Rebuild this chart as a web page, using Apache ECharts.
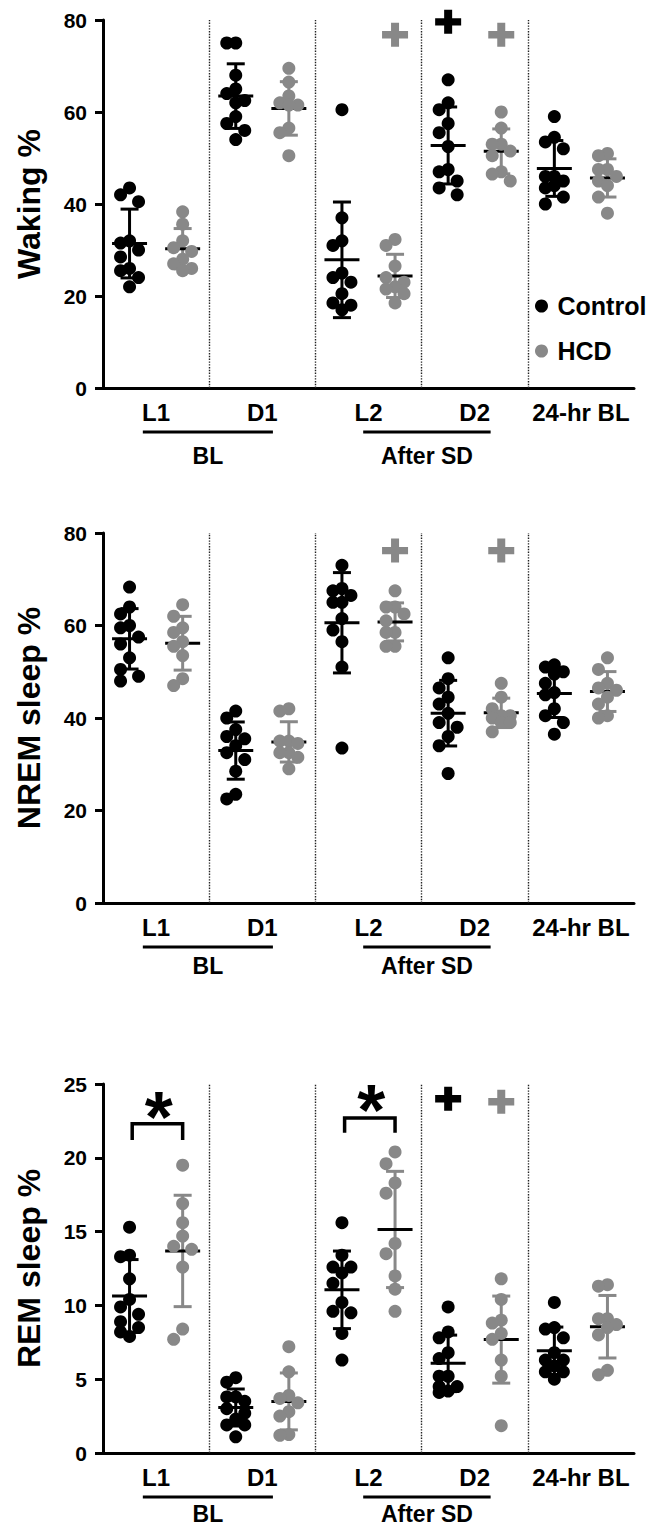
<!DOCTYPE html>
<html>
<head>
<meta charset="utf-8">
<script src="https://cdn.jsdelivr.net/npm/echarts@6/dist/echarts.min.js"></script>
<style>
html, body { margin: 0; padding: 0; background: #fff; }
#main { width: 652px; height: 1529px; }
</style>
</head>
<body>
<div id="main"></div>
<script>
// categories
var periods = ['L1', 'D1', 'L2', 'D2', '24-hr BL'];
var groupNames = ['BL', 'After SD'];

// Waking %
var wakingControl = [
	[43.5, 42, 40.5, 32, 31.5, 30, 28.5, 26, 25.5, 24, 22],
	[75, 75, 68, 65, 64, 62.5, 62, 59, 57.5, 56, 54],
	[60.5, 37, 32, 31, 25, 24, 23, 20.5, 18.5, 18, 17],
	[67, 62, 60.5, 57.5, 55.5, 52.5, 47.5, 47, 45, 43.5, 42],
	[59, 54.5, 53.5, 52, 46, 46, 45, 44, 43.5, 41.5, 40]
];
var wakingHCD = [
	[38.3, 35.6, 32, 30.5, 29.7, 28, 27, 26, 25.5],
	[69.5, 66.5, 63.5, 62, 61.5, 61.5, 56.5, 55.5, 50.5],
	[32.3, 31, 26.5, 24, 23, 22, 21.5, 20.5, 18.5],
	[60, 56.5, 53, 53, 51.5, 50.5, 47, 46.5, 45],
	[51, 50.5, 47.5, 47.5, 46, 45, 44, 41.5, 38]
];
var wakingCrossControl = [null, null, null, 79.6, null];
var wakingCrossHCD = [null, null, 76.8, 76.8, null];

// NREM sleep %
var nremControl = [
	[68.3, 64, 62.5, 60, 59.5, 57.5, 56, 53, 50.5, 49, 48],
	[41.5, 40, 37.5, 36, 35.5, 34, 32.5, 31, 28.5, 23.5, 22.5],
	[73, 68, 67.5, 66.5, 65, 65, 61.5, 59, 56.5, 51, 33.5],
	[53, 48.5, 46.5, 44.5, 43, 41, 39, 38, 36, 34, 28],
	[51.5, 51, 50, 49.5, 47.5, 45.5, 45, 42, 40.5, 39, 36.5]
];
var nremHCD = [
	[64.5, 62, 59.5, 58.5, 56.5, 55.5, 53.5, 48.5, 47],
	[42, 41.5, 35, 35, 34.5, 32.5, 32.5, 31.5, 29],
	[67.5, 64, 64, 62.5, 61, 58.5, 58.5, 55.5, 55.5],
	[47.5, 44.5, 42, 40.5, 40.5, 40, 39, 39, 37],
	[53, 50.5, 47.5, 46.5, 46, 44.5, 43, 40.5, 40]
];
var nremCrossControl = [null, null, null, null, null];
var nremCrossHCD = [null, null, 76.2, 76.2, null];

// REM sleep %
var remControl = [
	[15.3, 13.4, 13.3, 11.8, 10.4, 9.9, 9.4, 8.9, 8.5, 8.2, 7.9],
	[5.1, 4.8, 3.8, 3.8, 3.5, 3.0, 2.7, 2.3, 1.9, 1.9, 1.1],
	[15.6, 13.4, 12.6, 12.6, 12.2, 11.5, 10.2, 9.6, 9.5, 8.1, 6.3],
	[9.9, 8.2, 7.8, 6.8, 6.4, 5.2, 5.2, 4.5, 4.5, 4.2, 4.1],
	[10.2, 8.5, 8.4, 7.8, 6.8, 6.3, 6.3, 5.9, 5.5, 5.5, 5.0]
];
var remHCD = [
	[19.5, 16.9, 15.6, 14.7, 14.0, 13.8, 12.6, 8.4, 7.7],
	[7.2, 5.5, 3.9, 3.7, 3.4, 2.8, 2.5, 1.25, 1.2],
	[20.4, 19.6, 18.3, 17.6, 14.2, 13.5, 12.0, 11.1, 9.6],
	[11.8, 10.4, 9.0, 8.8, 8.1, 7.7, 6.3, 5.2, 1.85],
	[11.4, 11.3, 9.1, 9.1, 8.7, 8.5, 8.0, 5.6, 5.3]
];
var remCrossControl = [null, null, null, 24.0, null];
var remCrossHCD = [null, null, null, 23.8, null];
// * significance: level of the star, bracket top, bracket leg end
var remStars = [23.9, null, 24.4, null, null];
var remBracketTop = [22.3, null, 22.7, null, null];
var remBracketLeg = [21.2, null, 21.7, null, null];

var BLACK = '#000';
var GRAY = '#888';
var FONT = '"Liberation Sans", Arial, Helvetica, sans-serif';

var panels = [
	{ name: 'Waking %', ctrl: wakingControl, hcd: wakingHCD, crossC: wakingCrossControl, crossH: wakingCrossHCD, max: 80, step: 20, top: 20, height: 368, groupGap: 68 },
	{ name: 'NREM sleep %', ctrl: nremControl, hcd: nremHCD, crossC: nremCrossControl, crossH: nremCrossHCD, max: 80, step: 20, top: 533, height: 370, groupGap: 63 },
	{ name: 'REM sleep %', ctrl: remControl, hcd: remHCD, crossC: remCrossControl, crossH: remCrossHCD, max: 25, step: 5, top: 1084, height: 369, groupGap: 61 }
];
var gridLeft = 103, gridWidth = 531;

function meanSd(a) {
	var m = a.reduce(function(t, v) { return t + v; }, 0) / a.length;
	var s = Math.sqrt(a.reduce(function(t, v) { return t + (v - m) * (v - m); }, 0) / (a.length - 1));
	return [m, s];
}

// simple beeswarm so dots don't sit on top of each other
function swarm(values, center, pxPerY) {
	var pxPerX = gridWidth / 10;
	var placed = [], out = [];
	var offsets = [0, -9, 9];
	var sorted = values.slice().sort(function(a, b) { return b - a; });
	sorted.forEach(function(v) {
		var best = 0, bestD = -1;
		for (var k = 0; k < offsets.length; k++) {
			var ox = offsets[k], dmin = Infinity;
			placed.forEach(function(p) {
				var dx = p[0] - ox, dy = (p[1] - v) * pxPerY;
				dmin = Math.min(dmin, Math.sqrt(dx * dx + dy * dy));
			});
			if (dmin >= 12) { best = ox; bestD = dmin; break; }
			if (dmin > bestD) { bestD = dmin; best = ox; }
		}
		placed.push([best, v]);
		out.push([center + best / pxPerX, v]);
	});
	return out;
}

function renderBar(params, api) {
	var x = api.value(0), m = api.value(1), s = api.value(2);
	var col = api.value(3) ? GRAY : BLACK;
	var c = api.coord([x, m]), t = api.coord([x, m + s]), b = api.coord([x, m - s]);
	var st = { stroke: col, lineWidth: 3 };
	return {
		type: 'group',
		children: [
			{ type: 'line', shape: { x1: c[0], y1: t[1], x2: c[0], y2: b[1] }, style: st },
			{ type: 'line', shape: { x1: c[0] - 9, y1: t[1], x2: c[0] + 9, y2: t[1] }, style: st },
			{ type: 'line', shape: { x1: c[0] - 9, y1: b[1], x2: c[0] + 9, y2: b[1] }, style: st },
			{ type: 'line', shape: { x1: c[0] - 17.5, y1: c[1], x2: c[0] + 17.5, y2: c[1] }, style: { stroke: BLACK, lineWidth: 3 } }
		]
	};
}

// bracket + star: [x1, x2, bracketTop, legEnd, starX, starY]
function renderBracket(params, api) {
	var a = api.coord([api.value(0), api.value(2)]);
	var b = api.coord([api.value(1), api.value(3)]);
	var s = api.coord([api.value(4), api.value(5)]);
	return {
		type: 'group',
		children: [
			{
				type: 'polyline',
				shape: { points: [[a[0], b[1]], [a[0], a[1]], [b[0], a[1]], [b[0], b[1]]] },
				style: { stroke: BLACK, lineWidth: 3.5, fill: null }
			},
			{
				type: 'text', x: s[0], y: s[1] + 17,
				style: { text: '*', fill: BLACK, font: 'bold 72px ' + FONT, align: 'center', verticalAlign: 'middle' }
			}
		]
	};
}

var PLUS = 'path://M9,0h8v9h9v8h-9v9h-8v-9h-9v-8h9z';

var grids = [], xAxes = [], yAxes = [], series = [];
panels.forEach(function(p, i) {
	grids.push({ left: gridLeft, top: p.top, width: gridWidth, height: p.height, outerBoundsMode: 'none' });
	xAxes.push({
		type: 'value', gridIndex: i, min: 0, max: 10, interval: 1,
		axisLine: { lineStyle: { color: BLACK, width: 3 } },
		axisTick: { show: false },
		splitLine: { show: false },
		axisLabel: {
			margin: 12, color: BLACK, fontSize: 24, fontWeight: 'bold', fontFamily: FONT,
			formatter: function(v) { return v % 2 === 1 ? periods[(v - 1) / 2] : ''; }
		}
	});
	yAxes.push({
		type: 'value', gridIndex: i, min: 0, max: p.max, interval: p.step,
		name: p.name, nameLocation: 'middle', nameGap: 58,
		nameTextStyle: { color: BLACK, fontSize: 32, fontWeight: 'bold', fontFamily: FONT },
		axisLine: { show: true, lineStyle: { color: BLACK, width: 3 } },
		axisTick: { show: true, length: 8, lineStyle: { color: BLACK, width: 3 } },
		splitLine: { show: false },
		axisLabel: { margin: 16, color: BLACK, fontSize: 21, fontWeight: 'bold', fontFamily: FONT }
	});

	var pxPerY = p.height / p.max;
	var ctrlPts = [], hcdPts = [], bars = [], crosses = [];
	for (var g = 0; g < periods.length; g++) {
		ctrlPts = ctrlPts.concat(swarm(p.ctrl[g], 2 * g + 0.5, pxPerY));
		hcdPts = hcdPts.concat(swarm(p.hcd[g], 2 * g + 1.5, pxPerY));
		var mc = meanSd(p.ctrl[g]), mh = meanSd(p.hcd[g]);
		bars.push([2 * g + 0.5, mc[0], mc[1], 0]);
		bars.push([2 * g + 1.5, mh[0], mh[1], 1]);
		if (p.crossC[g] != null) crosses.push([2 * g + 0.5, p.crossC[g], 0]);
		if (p.crossH[g] != null) crosses.push([2 * g + 1.5, p.crossH[g], 1]);
	}

	series.push({
		type: 'custom', name: 'sd', xAxisIndex: i, yAxisIndex: i, z: 2, clip: false,
		renderItem: renderBar, encode: { x: 0, y: 1 }, data: bars, silent: true,
		markLine: {
			silent: true, symbol: ['none', 'none'], label: { show: false },
			lineStyle: { color: '#222', width: 1.4, type: 'dotted' },
			data: [{ xAxis: 2 }, { xAxis: 4 }, { xAxis: 6 }, { xAxis: 8 }]
		}
	});
	series.push({
		type: 'scatter', name: 'Control', xAxisIndex: i, yAxisIndex: i, z: 3,
		symbol: 'circle', symbolSize: 13, itemStyle: { color: BLACK, opacity: 1 }, data: ctrlPts
	});
	series.push({
		type: 'scatter', name: 'HCD', xAxisIndex: i, yAxisIndex: i, z: 3,
		symbol: 'circle', symbolSize: 13, itemStyle: { color: GRAY, opacity: 1 }, data: hcdPts
	});
	series.push({
		type: 'scatter', name: 'cross', xAxisIndex: i, yAxisIndex: i, z: 4,
		symbol: PLUS, symbolSize: [26, 24],
		itemStyle: { opacity: 1, color: function(d) { return d.data[2] ? GRAY : BLACK; } },
		data: crosses
	});

	if (i === 2) {
		var br = [];
		for (var g2 = 0; g2 < periods.length; g2++) {
			if (remStars[g2] == null) continue;
			br.push([2 * g2 + 0.55, 2 * g2 + 1.5, remBracketTop[g2], remBracketLeg[g2], 2 * g2 + 1.05, remStars[g2]]);
		}
		series.push({
			type: 'custom', name: 'bracket', xAxisIndex: i, yAxisIndex: i, z: 4, clip: false,
			renderItem: renderBracket, encode: { x: [0, 1], y: [2, 3] }, data: br
		});
	}
});

var chart = echarts.init(document.getElementById('main'), null, { renderer: 'svg' });
chart.setOption({
	animation: false,
	backgroundColor: '#fff',
	grid: grids,
	xAxis: xAxes,
	yAxis: yAxes,
	legend: {
		data: ['Control', 'HCD'], orient: 'vertical', left: 530, top: 287,
		icon: 'circle', itemWidth: 22, itemHeight: 13, itemGap: 17, selectedMode: false,
		textStyle: { color: BLACK, fontSize: 25, fontWeight: 'bold', fontFamily: FONT, lineHeight: 28 }
	},
	series: series
});

// group labels (BL / After SD) with their underlines
var spans = [[0.75, 3.2], [4.9, 7.3]];
var gfx = [];
panels.forEach(function(p, i) {
	var y0 = chart.convertToPixel({ yAxisIndex: i }, 0);
	spans.forEach(function(s, k) {
		var x1 = chart.convertToPixel({ xAxisIndex: i }, s[0]);
		var x2 = chart.convertToPixel({ xAxisIndex: i }, s[1]);
		gfx.push({ type: 'line', shape: { x1: x1, y1: y0 + 44, x2: x2, y2: y0 + 44 }, style: { stroke: BLACK, lineWidth: 3 } });
		gfx.push({
			type: 'text', x: (x1 + x2) / 2, y: y0 + p.groupGap,
			style: { text: groupNames[k], fill: BLACK, font: 'bold 23px ' + FONT, align: 'center', verticalAlign: 'middle' }
		});
	});
});
chart.setOption({ graphic: gfx });
</script>
</body>
</html>
